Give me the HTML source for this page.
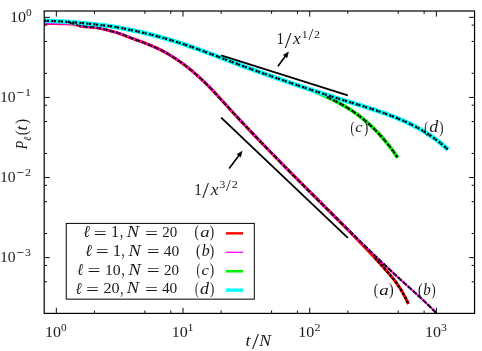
<!DOCTYPE html>
<html><head><meta charset="utf-8"><title>plot</title>
<style>html,body{margin:0;padding:0;background:#fff}body{width:482px;height:351px;overflow:hidden;font-family:"Liberation Serif",serif}svg{display:block}</style>
</head><body>
<svg width="482" height="351" viewBox="0 0 482 351">
<rect width="482" height="351" fill="#fff"/>
<defs><clipPath id="c"><rect x="44.20" y="11.00" width="430.35" height="302.40"/></clipPath></defs>
<g clip-path="url(#c)" fill="none" stroke-linejoin="round">
<path d="M44.20 23.45 L45.11 23.45 L46.03 23.45 L46.94 23.45 L47.85 23.46 L48.77 23.46 L49.68 23.47 L50.59 23.47 L51.50 23.48 L52.42 23.49 L53.33 23.50 L54.24 23.51 L55.16 23.52 L56.07 23.53 L56.98 23.55 L57.90 23.56 L58.81 23.58 L59.72 23.60 L60.63 23.61 L61.55 23.63 L62.46 23.66 L63.37 23.68 L64.29 23.70 L65.20 23.73 L66.11 23.75 L67.03 23.78 L67.94 23.81 L68.85 23.84 L69.76 23.87 L70.68 23.91 L71.59 23.94 L72.50 23.98 L73.42 24.03 L74.33 24.16 L75.24 24.37 L76.16 24.64 L77.07 24.95 L77.98 25.27 L78.90 25.59 L79.81 25.89 L80.72 26.15 L81.63 26.34 L82.55 26.47 L83.46 26.57 L84.37 26.66 L85.29 26.74 L86.20 26.82 L87.11 26.88 L88.03 26.94 L88.94 27.00 L89.85 27.06 L90.76 27.12 L91.68 27.18 L92.59 27.26 L93.50 27.34 L94.42 27.43 L95.33 27.54 L96.24 27.66 L97.16 27.80 L98.07 27.95 L98.98 28.11 L99.89 28.29 L100.81 28.48 L101.72 28.68 L102.63 28.89 L103.55 29.10 L104.46 29.32 L105.37 29.54 L106.29 29.77 L107.20 30.04 L108.11 30.32 L109.03 30.61 L109.94 30.87 L110.85 31.11 L111.76 31.34 L112.68 31.57 L113.59 31.80 L114.50 32.04 L115.42 32.28 L116.33 32.54 L117.24 32.82 L118.16 33.11 L119.07 33.41 L119.98 33.74 L120.89 34.08 L121.81 34.44 L122.72 34.80 L123.63 35.18 L124.55 35.55 L125.46 35.92 L126.37 36.28 L127.29 36.63 L128.20 36.98 L129.11 37.32 L130.03 37.65 L130.94 37.98 L131.85 38.31 L132.76 38.64 L133.68 38.96 L134.59 39.29 L135.50 39.61 L136.42 39.94 L137.33 40.26 L138.24 40.58 L139.16 40.91 L140.07 41.24 L140.98 41.57 L141.89 41.90 L142.81 42.23 L143.72 42.57 L144.63 42.91 L145.55 43.26 L146.46 43.61 L147.37 43.97 L148.29 44.34 L149.20 44.71 L150.11 45.08 L151.02 45.47 L151.94 45.86 L152.85 46.26 L153.76 46.67 L154.68 47.08 L155.59 47.51 L156.50 47.94 L157.42 48.37 L158.33 48.82 L159.24 49.27 L160.16 49.73 L161.07 50.20 L161.98 50.68 L162.89 51.16 L163.81 51.65 L164.72 52.15 L165.63 52.66 L166.55 53.18 L167.46 53.70 L168.37 54.23 L169.29 54.77 L170.20 55.32 L171.11 55.88 L172.02 56.44 L172.94 57.02 L173.85 57.60 L174.76 58.19 L175.68 58.78 L176.59 59.39 L177.50 60.01 L178.42 60.63 L179.33 61.26 L180.24 61.90 L181.15 62.55 L182.07 63.21 L182.98 63.87 L183.89 64.55 L184.81 65.23 L185.72 65.92 L186.63 66.62 L187.55 67.33 L188.46 68.05 L189.37 68.78 L190.29 69.52 L191.20 70.26 L192.11 71.02 L193.02 71.78 L193.94 72.56 L194.85 73.34 L195.76 74.13 L196.68 74.93 L197.59 75.74 L198.50 76.56 L199.42 77.39 L200.33 78.22 L201.24 79.07 L202.15 79.93 L203.07 80.79 L203.98 81.66 L204.89 82.55 L205.81 83.44 L206.72 84.34 L207.63 85.25 L208.55 86.16 L209.46 87.09 L210.37 88.02 L211.28 88.96 L212.20 89.91 L213.11 90.87 L214.02 91.84 L214.94 92.81 L215.85 93.79 L216.76 94.77 L217.68 95.77 L218.59 96.76 L219.50 97.76 L220.42 98.77 L221.33 99.77 L222.24 100.78 L223.15 101.79 L224.07 102.80 L224.98 103.81 L225.89 104.81 L226.81 105.82 L227.72 106.82 L228.63 107.82 L229.55 108.82 L230.46 109.81 L231.37 110.81 L232.28 111.80 L233.20 112.79 L234.11 113.78 L235.02 114.77 L235.94 115.76 L236.85 116.74 L237.76 117.72 L238.68 118.70 L239.59 119.68 L240.50 120.66 L241.42 121.64 L242.33 122.61 L243.24 123.58 L244.15 124.56 L245.07 125.53 L245.98 126.49 L246.89 127.46 L247.81 128.43 L248.72 129.39 L249.63 130.35 L250.55 131.31 L251.46 132.27 L252.37 133.23 L253.28 134.19 L254.20 135.15 L255.11 136.10 L256.02 137.05 L256.94 138.01 L257.85 138.96 L258.76 139.91 L259.68 140.86 L260.59 141.80 L261.50 142.75 L262.41 143.69 L263.33 144.64 L264.24 145.58 L265.15 146.52 L266.07 147.46 L266.98 148.40 L267.89 149.34 L268.81 150.28 L269.72 151.22 L270.63 152.15 L271.55 153.09 L272.46 154.02 L273.37 154.95 L274.28 155.88 L275.20 156.81 L276.11 157.75 L277.02 158.67 L277.94 159.60 L278.85 160.53 L279.76 161.46 L280.68 162.38 L281.59 163.31 L282.50 164.23 L283.41 165.16 L284.33 166.08 L285.24 167.00 L286.15 167.93 L287.07 168.85 L287.98 169.77 L288.89 170.69 L289.81 171.61 L290.72 172.53 L291.63 173.44 L292.54 174.36 L293.46 175.28 L294.37 176.20 L295.28 177.11 L296.20 178.03 L297.11 178.95 L298.02 179.86 L298.94 180.78 L299.85 181.69 L300.76 182.60 L301.68 183.52 L302.59 184.43 L303.50 185.35 L304.41 186.26 L305.33 187.17 L306.24 188.08 L307.15 189.00 L308.07 189.91 L308.98 190.82 L309.89 191.73 L310.81 192.64 L311.72 193.56 L312.63 194.47 L313.54 195.38 L314.46 196.29 L315.37 197.20 L316.28 198.11 L317.20 199.03 L318.11 199.94 L319.02 200.85 L319.94 201.76 L320.85 202.67 L321.76 203.58 L322.67 204.50 L323.59 205.41 L324.50 206.32 L325.41 207.23 L326.33 208.14 L327.24 209.06 L328.15 209.97 L329.07 210.88 L329.98 211.80 L330.89 212.71 L331.81 213.63 L332.72 214.54 L333.63 215.45 L334.54 216.37 L335.46 217.29 L336.37 218.20 L337.28 219.12 L338.20 220.03 L339.11 220.95 L340.02 221.87 L340.94 222.79 L341.85 223.71 L342.76 224.63 L343.67 225.55 L344.59 226.47 L345.50 227.39 L346.41 228.31 L347.33 229.24 L348.24 230.16 L349.15 231.09 L350.07 232.01 L350.98 232.94 L351.89 233.87 L352.81 234.80 L353.72 235.74 L354.63 236.67 L355.54 237.61 L356.46 238.55 L357.37 239.49 L358.28 240.43 L359.20 241.37 L360.11 242.32 L361.02 243.26 L361.94 244.21 L362.85 245.16 L363.76 246.12 L364.67 247.08 L365.59 248.03 L366.50 249.00 L367.41 249.96 L368.33 250.93 L369.24 251.89 L370.15 252.87 L371.07 253.84 L371.98 254.82 L372.89 255.80 L373.80 256.78 L374.72 257.77 L375.63 258.76 L376.54 259.75 L377.46 260.75 L378.37 261.75 L379.28 262.75 L380.20 263.76 L381.11 264.77 L382.02 265.79 L382.94 266.81 L383.85 267.83 L384.76 268.85 L385.67 269.88 L386.59 270.92 L387.50 271.96 L388.41 273.00 L389.33 274.06 L390.24 275.13 L391.15 276.21 L392.07 277.32 L392.98 278.45 L393.89 279.60 L394.80 280.79 L395.72 282.00 L396.63 283.25 L397.54 284.54 L398.46 285.87 L399.37 287.24 L400.28 288.66 L401.20 290.14 L402.11 291.66 L403.02 293.25 L403.93 294.89 L404.85 296.59 L405.76 298.37 L406.67 300.21 L407.59 302.12 L408.50 304.11" stroke="#f00" stroke-width="3.1"/>
<path d="M44.20 23.45 L45.18 23.45 L46.17 23.45 L47.15 23.45 L48.14 23.46 L49.12 23.46 L50.11 23.47 L51.09 23.48 L52.08 23.49 L53.06 23.49 L54.04 23.51 L55.03 23.52 L56.01 23.53 L57.00 23.55 L57.98 23.56 L58.97 23.58 L59.95 23.60 L60.94 23.62 L61.92 23.64 L62.90 23.67 L63.89 23.69 L64.87 23.72 L65.86 23.75 L66.84 23.78 L67.83 23.81 L68.81 23.84 L69.80 23.87 L70.78 23.91 L71.76 23.95 L72.75 23.99 L73.73 24.06 L74.72 24.24 L75.70 24.50 L76.69 24.81 L77.67 25.16 L78.66 25.51 L79.64 25.84 L80.63 26.13 L81.61 26.34 L82.59 26.48 L83.58 26.59 L84.56 26.68 L85.55 26.77 L86.53 26.84 L87.52 26.91 L88.50 26.97 L89.49 27.03 L90.47 27.10 L91.45 27.17 L92.44 27.24 L93.42 27.33 L94.41 27.43 L95.39 27.55 L96.38 27.68 L97.36 27.83 L98.35 28.00 L99.33 28.18 L100.31 28.38 L101.30 28.59 L102.28 28.81 L103.27 29.03 L104.25 29.27 L105.24 29.51 L106.22 29.76 L107.21 30.05 L108.19 30.36 L109.17 30.67 L110.16 30.95 L111.14 31.20 L112.13 31.45 L113.11 31.69 L114.10 31.94 L115.08 32.19 L116.07 32.46 L117.05 32.74 L118.03 33.03 L119.02 33.35 L120.00 33.68 L120.99 34.04 L121.97 34.41 L122.96 34.79 L123.94 35.18 L124.93 35.56 L125.91 35.95 L126.89 36.33 L127.88 36.70 L128.86 37.07 L129.85 37.43 L130.83 37.81 L131.82 38.19 L132.80 38.57 L133.79 38.95 L134.77 39.34 L135.75 39.72 L136.74 40.10 L137.72 40.48 L138.71 40.87 L139.69 41.25 L140.68 41.63 L141.66 42.00 L142.65 42.38 L143.63 42.76 L144.62 43.14 L145.60 43.52 L146.58 43.90 L147.57 44.29 L148.55 44.67 L149.54 45.07 L150.52 45.46 L151.51 45.87 L152.49 46.27 L153.48 46.69 L154.46 47.11 L155.44 47.54 L156.43 47.98 L157.41 48.42 L158.40 48.88 L159.38 49.34 L160.37 49.82 L161.35 50.31 L162.34 50.80 L163.32 51.31 L164.30 51.83 L165.29 52.37 L166.27 52.91 L167.26 53.46 L168.24 54.02 L169.23 54.60 L170.21 55.19 L171.20 55.78 L172.18 56.39 L173.16 57.01 L174.15 57.64 L175.13 58.28 L176.12 58.93 L177.10 59.59 L178.09 60.26 L179.07 60.94 L180.06 61.64 L181.04 62.34 L182.02 63.05 L183.01 63.78 L183.99 64.52 L184.98 65.26 L185.96 66.02 L186.95 66.79 L187.93 67.57 L188.92 68.35 L189.90 69.15 L190.88 69.96 L191.87 70.79 L192.85 71.62 L193.84 72.46 L194.82 73.31 L195.81 74.17 L196.79 75.05 L197.78 75.93 L198.76 76.82 L199.74 77.73 L200.73 78.64 L201.71 79.57 L202.70 80.50 L203.68 81.45 L204.67 82.40 L205.65 83.37 L206.64 84.35 L207.62 85.33 L208.61 86.33 L209.59 87.34 L210.57 88.36 L211.56 89.38 L212.54 90.42 L213.53 91.46 L214.51 92.51 L215.50 93.57 L216.48 94.62 L217.47 95.68 L218.45 96.75 L219.43 97.81 L220.42 98.87 L221.40 99.94 L222.39 101.00 L223.37 102.07 L224.36 103.13 L225.34 104.19 L226.33 105.25 L227.31 106.32 L228.29 107.38 L229.28 108.44 L230.26 109.50 L231.25 110.56 L232.23 111.62 L233.22 112.67 L234.20 113.73 L235.19 114.79 L236.17 115.84 L237.15 116.89 L238.14 117.95 L239.12 119.00 L240.11 120.05 L241.09 121.10 L242.08 122.14 L243.06 123.19 L244.05 124.24 L245.03 125.28 L246.01 126.32 L247.00 127.37 L247.98 128.41 L248.97 129.45 L249.95 130.49 L250.94 131.52 L251.92 132.56 L252.91 133.60 L253.89 134.63 L254.87 135.67 L255.86 136.70 L256.84 137.73 L257.83 138.76 L258.81 139.79 L259.80 140.82 L260.78 141.85 L261.77 142.88 L262.75 143.90 L263.73 144.93 L264.72 145.95 L265.70 146.97 L266.69 148.00 L267.67 149.02 L268.66 150.04 L269.64 151.06 L270.63 152.08 L271.61 153.09 L272.59 154.11 L273.58 155.12 L274.56 156.14 L275.55 157.15 L276.53 158.17 L277.52 159.18 L278.50 160.19 L279.49 161.20 L280.47 162.21 L281.46 163.22 L282.44 164.22 L283.42 165.23 L284.41 166.24 L285.39 167.24 L286.38 168.24 L287.36 169.25 L288.35 170.25 L289.33 171.25 L290.32 172.25 L291.30 173.25 L292.28 174.25 L293.27 175.25 L294.25 176.25 L295.24 177.24 L296.22 178.24 L297.21 179.23 L298.19 180.23 L299.18 181.22 L300.16 182.21 L301.14 183.21 L302.13 184.20 L303.11 185.19 L304.10 186.18 L305.08 187.17 L306.07 188.15 L307.05 189.14 L308.04 190.13 L309.02 191.11 L310.00 192.10 L310.99 193.08 L311.97 194.07 L312.96 195.05 L313.94 196.03 L314.93 197.01 L315.91 197.99 L316.90 198.97 L317.88 199.95 L318.86 200.93 L319.85 201.91 L320.83 202.89 L321.82 203.86 L322.80 204.84 L323.79 205.82 L324.77 206.79 L325.76 207.77 L326.74 208.74 L327.72 209.71 L328.71 210.68 L329.69 211.66 L330.68 212.63 L331.66 213.60 L332.65 214.57 L333.63 215.54 L334.62 216.51 L335.60 217.47 L336.58 218.44 L337.57 219.41 L338.55 220.37 L339.54 221.34 L340.52 222.31 L341.51 223.27 L342.49 224.23 L343.48 225.20 L344.46 226.16 L345.45 227.12 L346.43 228.09 L347.41 229.05 L348.40 230.01 L349.38 230.97 L350.37 231.93 L351.35 232.89 L352.34 233.85 L353.32 234.81 L354.31 235.76 L355.29 236.72 L356.27 237.68 L357.26 238.63 L358.24 239.59 L359.23 240.55 L360.21 241.50 L361.20 242.45 L362.18 243.41 L363.17 244.36 L364.15 245.31 L365.13 246.26 L366.12 247.21 L367.10 248.16 L368.09 249.11 L369.07 250.06 L370.06 251.00 L371.04 251.95 L372.03 252.89 L373.01 253.83 L373.99 254.78 L374.98 255.72 L375.96 256.66 L376.95 257.59 L377.93 258.53 L378.92 259.47 L379.90 260.40 L380.89 261.33 L381.87 262.27 L382.85 263.20 L383.84 264.12 L384.82 265.05 L385.81 265.98 L386.79 266.90 L387.78 267.82 L388.76 268.74 L389.75 269.66 L390.73 270.58 L391.71 271.49 L392.70 272.41 L393.68 273.32 L394.67 274.23 L395.65 275.14 L396.64 276.04 L397.62 276.95 L398.61 277.85 L399.59 278.75 L400.57 279.65 L401.56 280.54 L402.54 281.43 L403.53 282.33 L404.51 283.22 L405.50 284.10 L406.48 284.99 L407.47 285.87 L408.45 286.76 L409.44 287.64 L410.42 288.53 L411.40 289.41 L412.39 290.30 L413.37 291.19 L414.36 292.08 L415.34 292.97 L416.33 293.86 L417.31 294.76 L418.30 295.66 L419.28 296.56 L420.26 297.47 L421.25 298.38 L422.23 299.30 L423.22 300.22 L424.20 301.15 L425.19 302.08 L426.17 303.02 L427.16 303.96 L428.14 304.92 L429.12 305.88 L430.11 306.84 L431.09 307.82 L432.08 308.80 L433.06 309.80 L434.05 310.80 L435.03 311.81 L436.02 312.83 L437.00 313.86" stroke="#f0f" stroke-width="2.0"/>
<path d="M44.20 20.70 L45.09 20.73 L45.97 20.76 L46.86 20.79 L47.74 20.82 L48.63 20.86 L49.52 20.89 L50.40 20.93 L51.29 20.97 L52.17 21.01 L53.06 21.05 L53.95 21.09 L54.83 21.13 L55.72 21.17 L56.60 21.22 L57.49 21.26 L58.38 21.31 L59.26 21.36 L60.15 21.41 L61.03 21.46 L61.92 21.51 L62.81 21.56 L63.69 21.62 L64.58 21.68 L65.46 21.74 L66.35 21.80 L67.24 21.86 L68.12 21.93 L69.01 21.99 L69.89 22.06 L70.78 22.13 L71.66 22.20 L72.55 22.27 L73.44 22.34 L74.32 22.41 L75.21 22.49 L76.09 22.56 L76.98 22.64 L77.87 22.71 L78.75 22.79 L79.64 22.87 L80.52 22.95 L81.41 23.03 L82.30 23.11 L83.18 23.19 L84.07 23.27 L84.95 23.36 L85.84 23.44 L86.73 23.53 L87.61 23.62 L88.50 23.71 L89.38 23.80 L90.27 23.89 L91.16 23.98 L92.04 24.08 L92.93 24.17 L93.81 24.27 L94.70 24.37 L95.59 24.47 L96.47 24.57 L97.36 24.67 L98.24 24.77 L99.13 24.87 L100.02 24.97 L100.90 25.07 L101.79 25.18 L102.67 25.28 L103.56 25.38 L104.45 25.49 L105.33 25.60 L106.22 25.71 L107.10 25.82 L107.99 25.94 L108.88 26.06 L109.76 26.18 L110.65 26.30 L111.53 26.43 L112.42 26.56 L113.31 26.70 L114.19 26.83 L115.08 26.98 L115.96 27.12 L116.85 27.27 L117.74 27.42 L118.62 27.58 L119.51 27.74 L120.39 27.90 L121.28 28.07 L122.16 28.25 L123.05 28.42 L123.94 28.60 L124.82 28.78 L125.71 28.95 L126.59 29.13 L127.48 29.31 L128.37 29.48 L129.25 29.66 L130.14 29.84 L131.02 30.02 L131.91 30.20 L132.80 30.39 L133.68 30.57 L134.57 30.76 L135.45 30.95 L136.34 31.15 L137.23 31.34 L138.11 31.54 L139.00 31.74 L139.88 31.94 L140.77 32.14 L141.66 32.34 L142.54 32.55 L143.43 32.76 L144.31 32.97 L145.20 33.18 L146.09 33.39 L146.97 33.61 L147.86 33.82 L148.74 34.04 L149.63 34.26 L150.52 34.49 L151.40 34.71 L152.29 34.94 L153.17 35.17 L154.06 35.40 L154.95 35.63 L155.83 35.87 L156.72 36.10 L157.60 36.34 L158.49 36.58 L159.38 36.83 L160.26 37.07 L161.15 37.32 L162.03 37.56 L162.92 37.82 L163.81 38.07 L164.69 38.32 L165.58 38.58 L166.46 38.84 L167.35 39.10 L168.24 39.36 L169.12 39.62 L170.01 39.89 L170.89 40.16 L171.78 40.43 L172.66 40.70 L173.55 40.97 L174.44 41.25 L175.32 41.53 L176.21 41.81 L177.09 42.09 L177.98 42.37 L178.87 42.66 L179.75 42.94 L180.64 43.23 L181.52 43.53 L182.41 43.82 L183.30 44.11 L184.18 44.41 L185.07 44.71 L185.95 45.01 L186.84 45.31 L187.73 45.62 L188.61 45.92 L189.50 46.23 L190.38 46.54 L191.27 46.85 L192.16 47.16 L193.04 47.48 L193.93 47.79 L194.81 48.11 L195.70 48.43 L196.59 48.74 L197.47 49.06 L198.36 49.38 L199.24 49.71 L200.13 50.03 L201.02 50.35 L201.90 50.68 L202.79 51.01 L203.67 51.33 L204.56 51.66 L205.45 51.99 L206.33 52.32 L207.22 52.65 L208.10 52.98 L208.99 53.31 L209.88 53.65 L210.76 53.98 L211.65 54.31 L212.53 54.65 L213.42 54.98 L214.31 55.32 L215.19 55.65 L216.08 55.99 L216.96 56.33 L217.85 56.66 L218.74 57.00 L219.62 57.34 L220.51 57.67 L221.39 58.01 L222.28 58.35 L223.16 58.68 L224.05 59.02 L224.94 59.36 L225.82 59.70 L226.71 60.03 L227.59 60.37 L228.48 60.71 L229.37 61.04 L230.25 61.38 L231.14 61.71 L232.02 62.05 L232.91 62.38 L233.80 62.72 L234.68 63.05 L235.57 63.38 L236.45 63.72 L237.34 64.05 L238.23 64.38 L239.11 64.71 L240.00 65.04 L240.88 65.37 L241.77 65.70 L242.66 66.03 L243.54 66.35 L244.43 66.68 L245.31 67.00 L246.20 67.33 L247.09 67.65 L247.97 67.97 L248.86 68.30 L249.74 68.62 L250.63 68.94 L251.52 69.26 L252.40 69.58 L253.29 69.89 L254.17 70.21 L255.06 70.53 L255.95 70.84 L256.83 71.16 L257.72 71.47 L258.60 71.79 L259.49 72.10 L260.38 72.41 L261.26 72.72 L262.15 73.03 L263.03 73.34 L263.92 73.65 L264.81 73.96 L265.69 74.27 L266.58 74.57 L267.46 74.88 L268.35 75.18 L269.24 75.49 L270.12 75.79 L271.01 76.10 L271.89 76.40 L272.78 76.70 L273.66 77.00 L274.55 77.30 L275.44 77.60 L276.32 77.90 L277.21 78.20 L278.09 78.50 L278.98 78.80 L279.87 79.10 L280.75 79.40 L281.64 79.70 L282.52 80.00 L283.41 80.30 L284.30 80.60 L285.18 80.90 L286.07 81.21 L286.95 81.51 L287.84 81.81 L288.73 82.12 L289.61 82.42 L290.50 82.73 L291.38 83.03 L292.27 83.34 L293.16 83.65 L294.04 83.96 L294.93 84.27 L295.81 84.58 L296.70 84.89 L297.59 85.21 L298.47 85.53 L299.36 85.84 L300.24 86.16 L301.13 86.49 L302.02 86.81 L302.90 87.14 L303.79 87.46 L304.67 87.79 L305.56 88.12 L306.45 88.46 L307.33 88.79 L308.22 89.13 L309.10 89.47 L309.99 89.82 L310.88 90.16 L311.76 90.51 L312.65 90.86 L313.53 91.22 L314.42 91.57 L315.31 91.93 L316.19 92.29 L317.08 92.66 L317.96 93.03 L318.85 93.40 L319.74 93.78 L320.62 94.16 L321.51 94.54 L322.39 94.92 L323.28 95.31 L324.16 95.71 L325.05 96.10 L325.94 96.50 L326.82 96.91 L327.71 97.32 L328.59 97.73 L329.48 98.15 L330.37 98.57 L331.25 99.00 L332.14 99.43 L333.02 99.86 L333.91 100.31 L334.80 100.75 L335.68 101.21 L336.57 101.67 L337.45 102.13 L338.34 102.60 L339.23 103.08 L340.11 103.57 L341.00 104.06 L341.88 104.56 L342.77 105.06 L343.66 105.57 L344.54 106.09 L345.43 106.62 L346.31 107.15 L347.20 107.70 L348.09 108.25 L348.97 108.81 L349.86 109.37 L350.74 109.95 L351.63 110.53 L352.52 111.13 L353.40 111.73 L354.29 112.34 L355.17 112.96 L356.06 113.59 L356.95 114.23 L357.83 114.89 L358.72 115.55 L359.60 116.22 L360.49 116.90 L361.38 117.59 L362.26 118.29 L363.15 119.01 L364.03 119.74 L364.92 120.47 L365.81 121.22 L366.69 121.98 L367.58 122.76 L368.46 123.54 L369.35 124.34 L370.24 125.15 L371.12 125.98 L372.01 126.81 L372.89 127.66 L373.78 128.53 L374.66 129.41 L375.55 130.30 L376.44 131.21 L377.32 132.13 L378.21 133.06 L379.09 134.01 L379.98 134.98 L380.87 135.96 L381.75 136.95 L382.64 137.96 L383.52 138.99 L384.41 140.03 L385.30 141.09 L386.18 142.17 L387.07 143.26 L387.95 144.37 L388.84 145.49 L389.73 146.63 L390.61 147.79 L391.50 148.97 L392.38 150.17 L393.27 151.38 L394.16 152.61 L395.04 153.86 L395.93 155.13 L396.81 156.42 L397.70 157.72" stroke="#00f000" stroke-width="3.6"/>
<path d="M44.20 20.70 L45.21 20.73 L46.22 20.77 L47.24 20.80 L48.25 20.84 L49.26 20.88 L50.27 20.92 L51.28 20.97 L52.30 21.01 L53.31 21.06 L54.32 21.11 L55.33 21.15 L56.34 21.21 L57.36 21.26 L58.37 21.31 L59.38 21.37 L60.39 21.42 L61.40 21.48 L62.42 21.54 L63.43 21.60 L64.44 21.67 L65.45 21.74 L66.46 21.81 L67.48 21.88 L68.49 21.95 L69.50 22.03 L70.51 22.11 L71.52 22.19 L72.54 22.27 L73.55 22.35 L74.56 22.43 L75.57 22.52 L76.58 22.60 L77.60 22.69 L78.61 22.78 L79.62 22.87 L80.63 22.96 L81.65 23.05 L82.66 23.14 L83.67 23.23 L84.68 23.33 L85.69 23.43 L86.71 23.53 L87.72 23.63 L88.73 23.73 L89.74 23.83 L90.75 23.94 L91.77 24.05 L92.78 24.16 L93.79 24.27 L94.80 24.38 L95.81 24.49 L96.83 24.61 L97.84 24.72 L98.85 24.84 L99.86 24.96 L100.87 25.07 L101.89 25.19 L102.90 25.31 L103.91 25.43 L104.92 25.55 L105.93 25.68 L106.95 25.81 L107.96 25.94 L108.97 26.08 L109.98 26.22 L110.99 26.36 L112.01 26.51 L113.02 26.66 L114.03 26.82 L115.04 26.98 L116.05 27.15 L117.07 27.32 L118.08 27.50 L119.09 27.68 L120.10 27.87 L121.11 28.06 L122.13 28.26 L123.14 28.46 L124.15 28.66 L125.16 28.87 L126.17 29.07 L127.19 29.27 L128.20 29.48 L129.21 29.68 L130.22 29.88 L131.23 30.09 L132.25 30.30 L133.26 30.51 L134.27 30.73 L135.28 30.94 L136.29 31.16 L137.31 31.38 L138.32 31.61 L139.33 31.84 L140.34 32.07 L141.35 32.30 L142.37 32.53 L143.38 32.77 L144.39 33.01 L145.40 33.25 L146.42 33.49 L147.43 33.74 L148.44 33.99 L149.45 34.24 L150.46 34.49 L151.48 34.75 L152.49 35.01 L153.50 35.27 L154.51 35.54 L155.52 35.80 L156.54 36.07 L157.55 36.34 L158.56 36.62 L159.57 36.89 L160.58 37.17 L161.60 37.45 L162.61 37.74 L163.62 38.02 L164.63 38.31 L165.64 38.60 L166.66 38.90 L167.67 39.20 L168.68 39.49 L169.69 39.80 L170.70 40.10 L171.72 40.41 L172.73 40.72 L173.74 41.03 L174.75 41.34 L175.76 41.66 L176.78 41.98 L177.79 42.30 L178.80 42.63 L179.81 42.95 L180.82 43.28 L181.84 43.61 L182.85 43.95 L183.86 44.29 L184.87 44.63 L185.88 44.97 L186.90 45.31 L187.91 45.66 L188.92 46.01 L189.93 46.36 L190.94 46.71 L191.96 47.06 L192.97 47.42 L193.98 47.78 L194.99 48.13 L196.00 48.50 L197.02 48.86 L198.03 49.22 L199.04 49.59 L200.05 49.96 L201.06 50.32 L202.08 50.69 L203.09 51.07 L204.10 51.44 L205.11 51.81 L206.12 52.19 L207.14 52.56 L208.15 52.94 L209.16 53.32 L210.17 53.70 L211.18 54.07 L212.20 54.45 L213.21 54.84 L214.22 55.22 L215.23 55.60 L216.25 55.98 L217.26 56.36 L218.27 56.75 L219.28 57.13 L220.29 57.51 L221.31 57.90 L222.32 58.28 L223.33 58.67 L224.34 59.05 L225.35 59.43 L226.37 59.82 L227.38 60.20 L228.39 60.59 L229.40 60.97 L230.41 61.35 L231.43 61.74 L232.44 62.12 L233.45 62.50 L234.46 62.88 L235.47 63.26 L236.49 63.64 L237.50 64.02 L238.51 64.40 L239.52 64.78 L240.53 65.15 L241.55 65.53 L242.56 65.90 L243.57 66.28 L244.58 66.65 L245.59 67.02 L246.61 67.39 L247.62 67.76 L248.63 68.13 L249.64 68.50 L250.65 68.87 L251.67 69.24 L252.68 69.60 L253.69 69.97 L254.70 70.33 L255.71 70.70 L256.73 71.06 L257.74 71.42 L258.75 71.79 L259.76 72.15 L260.77 72.51 L261.79 72.87 L262.80 73.23 L263.81 73.59 L264.82 73.94 L265.83 74.30 L266.85 74.66 L267.86 75.01 L268.87 75.37 L269.88 75.73 L270.89 76.08 L271.91 76.43 L272.92 76.79 L273.93 77.14 L274.94 77.49 L275.95 77.85 L276.97 78.20 L277.98 78.55 L278.99 78.90 L280.00 79.25 L281.02 79.60 L282.03 79.95 L283.04 80.30 L284.05 80.65 L285.06 80.99 L286.08 81.34 L287.09 81.69 L288.10 82.04 L289.11 82.38 L290.12 82.73 L291.14 83.08 L292.15 83.42 L293.16 83.77 L294.17 84.11 L295.18 84.46 L296.20 84.80 L297.21 85.15 L298.22 85.49 L299.23 85.83 L300.24 86.18 L301.26 86.52 L302.27 86.86 L303.28 87.20 L304.29 87.55 L305.30 87.89 L306.32 88.23 L307.33 88.57 L308.34 88.90 L309.35 89.24 L310.36 89.58 L311.38 89.92 L312.39 90.25 L313.40 90.59 L314.41 90.93 L315.42 91.26 L316.44 91.59 L317.45 91.93 L318.46 92.26 L319.47 92.59 L320.48 92.92 L321.50 93.25 L322.51 93.58 L323.52 93.91 L324.53 94.24 L325.54 94.57 L326.56 94.89 L327.57 95.22 L328.58 95.54 L329.59 95.87 L330.60 96.19 L331.62 96.51 L332.63 96.83 L333.64 97.15 L334.65 97.47 L335.66 97.79 L336.68 98.11 L337.69 98.42 L338.70 98.74 L339.71 99.05 L340.72 99.37 L341.74 99.68 L342.75 99.99 L343.76 100.30 L344.77 100.61 L345.78 100.92 L346.80 101.23 L347.81 101.54 L348.82 101.84 L349.83 102.15 L350.85 102.46 L351.86 102.77 L352.87 103.07 L353.88 103.38 L354.89 103.69 L355.91 104.00 L356.92 104.31 L357.93 104.62 L358.94 104.93 L359.95 105.24 L360.97 105.55 L361.98 105.87 L362.99 106.18 L364.00 106.50 L365.01 106.82 L366.03 107.13 L367.04 107.45 L368.05 107.78 L369.06 108.10 L370.07 108.42 L371.09 108.75 L372.10 109.08 L373.11 109.41 L374.12 109.75 L375.13 110.08 L376.15 110.42 L377.16 110.76 L378.17 111.10 L379.18 111.45 L380.19 111.80 L381.21 112.15 L382.22 112.50 L383.23 112.86 L384.24 113.22 L385.25 113.59 L386.27 113.96 L387.28 114.33 L388.29 114.70 L389.30 115.08 L390.31 115.46 L391.33 115.85 L392.34 116.24 L393.35 116.63 L394.36 117.03 L395.37 117.43 L396.39 117.84 L397.40 118.25 L398.41 118.67 L399.42 119.09 L400.43 119.52 L401.45 119.95 L402.46 120.39 L403.47 120.83 L404.48 121.29 L405.49 121.74 L406.51 122.21 L407.52 122.68 L408.53 123.15 L409.54 123.64 L410.55 124.13 L411.57 124.63 L412.58 125.14 L413.59 125.66 L414.60 126.18 L415.62 126.72 L416.63 127.26 L417.64 127.81 L418.65 128.37 L419.66 128.94 L420.68 129.52 L421.69 130.11 L422.70 130.71 L423.71 131.32 L424.72 131.94 L425.74 132.58 L426.75 133.22 L427.76 133.87 L428.77 134.54 L429.78 135.22 L430.80 135.91 L431.81 136.61 L432.82 137.32 L433.83 138.05 L434.84 138.79 L435.86 139.54 L436.87 140.31 L437.88 141.09 L438.89 141.88 L439.90 142.69 L440.92 143.51 L441.93 144.34 L442.94 145.19 L443.95 146.06 L444.96 146.94 L445.98 147.83 L446.99 148.74 L448.00 149.67" stroke="#0ff" stroke-width="4.5"/>
<path d="M374.72 257.77 L375.63 258.76 L376.54 259.75 L377.46 260.75 L378.37 261.75 L379.28 262.75 L380.20 263.76 L381.11 264.77 L382.02 265.79 L382.94 266.81 L383.85 267.83 L384.76 268.85 L385.67 269.88 L386.59 270.92 L387.50 271.96 L388.41 273.00 L389.33 274.06 L390.24 275.13 L391.15 276.21 L392.07 277.32 L392.98 278.45 L393.89 279.60 L394.80 280.79 L395.72 282.00 L396.63 283.25 L397.54 284.54 L398.46 285.87 L399.37 287.24 L400.28 288.66 L401.20 290.14 L402.11 291.66 L403.02 293.25 L403.93 294.89 L404.85 296.59 L405.76 298.37 L406.67 300.21 L407.59 302.12 L408.50 304.11" stroke="#000" stroke-width="2.25" stroke-dasharray="2.6 1.9"/>
<path d="M69.80 22.71 L70.78 22.95 L71.76 23.19 L72.75 23.42 L73.73 23.66 L74.72 23.97 L75.70 24.34 L76.69 24.75 L77.67 25.15 L78.66 25.51 L79.64 25.84 L80.63 26.13 L81.61 26.34 L82.59 26.48 L83.58 26.59 L84.56 26.68 L85.55 26.77 L86.53 26.84 L87.52 26.91 L88.50 26.97 L89.49 27.03 L90.47 27.10 L91.45 27.17 L92.44 27.24 L93.42 27.33 L94.41 27.43 L95.39 27.55 L96.38 27.68 L97.36 27.83 L98.35 28.00 L99.33 28.18 L100.31 28.38 L101.30 28.59 L102.28 28.81 L103.27 29.03 L104.25 29.27 L105.24 29.51 L106.22 29.76 L107.21 30.05 L108.19 30.36 L109.17 30.67 L110.16 30.95 L111.14 31.20 L112.13 31.45 L113.11 31.69 L114.10 31.94 L115.08 32.19 L116.07 32.46 L117.05 32.74 L118.03 33.03 L119.02 33.35 L120.00 33.68 L120.99 34.04 L121.97 34.41 L122.96 34.79 L123.94 35.18 L124.93 35.56 L125.91 35.95 L126.89 36.33 L127.88 36.70 L128.86 37.07 L129.85 37.43 L130.83 37.81 L131.82 38.19 L132.80 38.57 L133.79 38.95 L134.77 39.34 L135.75 39.72 L136.74 40.10 L137.72 40.48 L138.71 40.87 L139.69 41.25 L140.68 41.63 L141.66 42.00 L142.65 42.38 L143.63 42.76 L144.62 43.14 L145.60 43.52 L146.58 43.90 L147.57 44.29 L148.55 44.67 L149.54 45.07 L150.52 45.46 L151.51 45.87 L152.49 46.27 L153.48 46.69 L154.46 47.11 L155.44 47.54 L156.43 47.98 L157.41 48.42 L158.40 48.88 L159.38 49.34 L160.37 49.82 L161.35 50.31 L162.34 50.80 L163.32 51.31 L164.30 51.83 L165.29 52.37 L166.27 52.91 L167.26 53.46 L168.24 54.02 L169.23 54.60 L170.21 55.19 L171.20 55.78 L172.18 56.39 L173.16 57.01 L174.15 57.64 L175.13 58.28 L176.12 58.93 L177.10 59.59 L178.09 60.26 L179.07 60.94 L180.06 61.64 L181.04 62.34 L182.02 63.05 L183.01 63.78 L183.99 64.52 L184.98 65.26 L185.96 66.02 L186.95 66.79 L187.93 67.57 L188.92 68.35 L189.90 69.15 L190.88 69.96 L191.87 70.79 L192.85 71.62 L193.84 72.46 L194.82 73.31 L195.81 74.17 L196.79 75.05 L197.78 75.93 L198.76 76.82 L199.74 77.73 L200.73 78.64 L201.71 79.57 L202.70 80.50 L203.68 81.45 L204.67 82.40 L205.65 83.37 L206.64 84.35 L207.62 85.33 L208.61 86.33 L209.59 87.34 L210.57 88.36 L211.56 89.38 L212.54 90.42 L213.53 91.46 L214.51 92.51 L215.50 93.57 L216.48 94.62 L217.47 95.68 L218.45 96.75 L219.43 97.81 L220.42 98.87 L221.40 99.94 L222.39 101.00 L223.37 102.07 L224.36 103.13 L225.34 104.19 L226.33 105.25 L227.31 106.32 L228.29 107.38 L229.28 108.44 L230.26 109.50 L231.25 110.56" stroke="#000" stroke-width="2.1" stroke-dasharray="2.0 0.6 2.0 2.2"/>
<path d="M232.23 111.62 L233.22 112.67 L234.20 113.73 L235.19 114.79 L236.17 115.84 L237.15 116.89 L238.14 117.95 L239.12 119.00 L240.11 120.05 L241.09 121.10 L242.08 122.14 L243.06 123.19 L244.05 124.24 L245.03 125.28 L246.01 126.32 L247.00 127.37 L247.98 128.41 L248.97 129.45 L249.95 130.49 L250.94 131.52 L251.92 132.56 L252.91 133.60 L253.89 134.63 L254.87 135.67 L255.86 136.70 L256.84 137.73 L257.83 138.76 L258.81 139.79 L259.80 140.82 L260.78 141.85 L261.77 142.88 L262.75 143.90 L263.73 144.93 L264.72 145.95 L265.70 146.97 L266.69 148.00 L267.67 149.02 L268.66 150.04 L269.64 151.06 L270.63 152.08 L271.61 153.09 L272.59 154.11 L273.58 155.12 L274.56 156.14 L275.55 157.15 L276.53 158.17 L277.52 159.18 L278.50 160.19 L279.49 161.20 L280.47 162.21 L281.46 163.22 L282.44 164.22 L283.42 165.23 L284.41 166.24 L285.39 167.24 L286.38 168.24 L287.36 169.25 L288.35 170.25 L289.33 171.25 L290.32 172.25 L291.30 173.25 L292.28 174.25 L293.27 175.25 L294.25 176.25 L295.24 177.24 L296.22 178.24 L297.21 179.23 L298.19 180.23 L299.18 181.22 L300.16 182.21 L301.14 183.21 L302.13 184.20 L303.11 185.19 L304.10 186.18 L305.08 187.17 L306.07 188.15 L307.05 189.14 L308.04 190.13 L309.02 191.11 L310.00 192.10 L310.99 193.08 L311.97 194.07 L312.96 195.05 L313.94 196.03 L314.93 197.01 L315.91 197.99 L316.90 198.97 L317.88 199.95 L318.86 200.93 L319.85 201.91 L320.83 202.89 L321.82 203.86 L322.80 204.84 L323.79 205.82 L324.77 206.79 L325.76 207.77 L326.74 208.74 L327.72 209.71 L328.71 210.68 L329.69 211.66 L330.68 212.63 L331.66 213.60 L332.65 214.57 L333.63 215.54 L334.62 216.51 L335.60 217.47 L336.58 218.44 L337.57 219.41 L338.55 220.37 L339.54 221.34 L340.52 222.31 L341.51 223.27 L342.49 224.23 L343.48 225.20 L344.46 226.16 L345.45 227.12 L346.43 228.09 L347.41 229.05 L348.40 230.01 L349.38 230.97 L350.37 231.93 L351.35 232.89 L352.34 233.85 L353.32 234.81 L354.31 235.76 L355.29 236.72 L356.27 237.68 L357.26 238.63 L358.24 239.59 L359.23 240.55 L360.21 241.50 L361.20 242.45 L362.18 243.41 L363.17 244.36 L364.15 245.31 L365.13 246.26 L366.12 247.21 L367.10 248.16 L368.09 249.11 L369.07 250.06 L370.06 251.00 L371.04 251.95 L372.03 252.89 L373.01 253.83 L373.99 254.78 L374.98 255.72 L375.96 256.66 L376.95 257.59 L377.93 258.53 L378.92 259.47 L379.90 260.40 L380.89 261.33 L381.87 262.27 L382.85 263.20 L383.84 264.12 L384.82 265.05 L385.81 265.98 L386.79 266.90 L387.78 267.82 L388.76 268.74 L389.75 269.66 L390.73 270.58 L391.71 271.49 L392.70 272.41 L393.68 273.32 L394.67 274.23 L395.65 275.14 L396.64 276.04 L397.62 276.95 L398.61 277.85 L399.59 278.75 L400.57 279.65 L401.56 280.54 L402.54 281.43 L403.53 282.33 L404.51 283.22 L405.50 284.10 L406.48 284.99 L407.47 285.87 L408.45 286.76 L409.44 287.64 L410.42 288.53 L411.40 289.41 L412.39 290.30 L413.37 291.19 L414.36 292.08 L415.34 292.97 L416.33 293.86 L417.31 294.76 L418.30 295.66 L419.28 296.56 L420.26 297.47 L421.25 298.38 L422.23 299.30 L423.22 300.22 L424.20 301.15 L425.19 302.08 L426.17 303.02 L427.16 303.96 L428.14 304.92 L429.12 305.88 L430.11 306.84 L431.09 307.82 L432.08 308.80 L433.06 309.80 L434.05 310.80 L435.03 311.81 L436.02 312.83 L437.00 313.86" stroke="#000" stroke-width="2.25" stroke-dasharray="2.05 0.5 2.05 2.1"/>
<path d="M326.82 96.91 L327.71 97.32 L328.59 97.73 L329.48 98.15 L330.37 98.57 L331.25 99.00 L332.14 99.43 L333.02 99.86 L333.91 100.31 L334.80 100.75 L335.68 101.21 L336.57 101.67 L337.45 102.13 L338.34 102.60 L339.23 103.08 L340.11 103.57 L341.00 104.06 L341.88 104.56 L342.77 105.06 L343.66 105.57 L344.54 106.09 L345.43 106.62 L346.31 107.15 L347.20 107.70 L348.09 108.25 L348.97 108.81 L349.86 109.37 L350.74 109.95 L351.63 110.53 L352.52 111.13 L353.40 111.73 L354.29 112.34 L355.17 112.96 L356.06 113.59 L356.95 114.23 L357.83 114.89 L358.72 115.55 L359.60 116.22 L360.49 116.90 L361.38 117.59 L362.26 118.29 L363.15 119.01 L364.03 119.74 L364.92 120.47 L365.81 121.22 L366.69 121.98 L367.58 122.76 L368.46 123.54 L369.35 124.34 L370.24 125.15 L371.12 125.98 L372.01 126.81 L372.89 127.66 L373.78 128.53 L374.66 129.41 L375.55 130.30 L376.44 131.21 L377.32 132.13 L378.21 133.06 L379.09 134.01 L379.98 134.98 L380.87 135.96 L381.75 136.95 L382.64 137.96 L383.52 138.99 L384.41 140.03 L385.30 141.09 L386.18 142.17 L387.07 143.26 L387.95 144.37 L388.84 145.49 L389.73 146.63 L390.61 147.79 L391.50 148.97 L392.38 150.17 L393.27 151.38 L394.16 152.61 L395.04 153.86 L395.93 155.13 L396.81 156.42 L397.70 157.72" stroke="#000" stroke-width="2.25" stroke-dasharray="2.1 0.55 2.1 2.3"/>
<path d="M44.20 20.70 L45.21 20.73 L46.22 20.77 L47.24 20.80 L48.25 20.84 L49.26 20.88 L50.27 20.92 L51.28 20.97 L52.30 21.01 L53.31 21.06 L54.32 21.11 L55.33 21.15 L56.34 21.21 L57.36 21.26 L58.37 21.31 L59.38 21.37 L60.39 21.42 L61.40 21.48 L62.42 21.54 L63.43 21.60 L64.44 21.67 L65.45 21.74 L66.46 21.81 L67.48 21.88 L68.49 21.95 L69.50 22.03 L70.51 22.11 L71.52 22.19 L72.54 22.27 L73.55 22.35 L74.56 22.43 L75.57 22.52 L76.58 22.60 L77.60 22.69 L78.61 22.78 L79.62 22.87 L80.63 22.96 L81.65 23.05 L82.66 23.14 L83.67 23.23 L84.68 23.33 L85.69 23.43 L86.71 23.53 L87.72 23.63 L88.73 23.73 L89.74 23.83 L90.75 23.94 L91.77 24.05 L92.78 24.16 L93.79 24.27 L94.80 24.38 L95.81 24.49 L96.83 24.61 L97.84 24.72 L98.85 24.84 L99.86 24.96 L100.87 25.07 L101.89 25.19 L102.90 25.31 L103.91 25.43 L104.92 25.55 L105.93 25.68 L106.95 25.81 L107.96 25.94 L108.97 26.08 L109.98 26.22 L110.99 26.36 L112.01 26.51 L113.02 26.66 L114.03 26.82 L115.04 26.98 L116.05 27.15 L117.07 27.32 L118.08 27.50 L119.09 27.68 L120.10 27.87 L121.11 28.06 L122.13 28.26 L123.14 28.46 L124.15 28.66 L125.16 28.87 L126.17 29.07 L127.19 29.27 L128.20 29.48 L129.21 29.68 L130.22 29.88 L131.23 30.09 L132.25 30.30 L133.26 30.51 L134.27 30.73 L135.28 30.94 L136.29 31.16 L137.31 31.38 L138.32 31.61 L139.33 31.84 L140.34 32.07 L141.35 32.30 L142.37 32.53 L143.38 32.77 L144.39 33.01 L145.40 33.25 L146.42 33.49 L147.43 33.74 L148.44 33.99 L149.45 34.24 L150.46 34.49 L151.48 34.75 L152.49 35.01 L153.50 35.27 L154.51 35.54 L155.52 35.80 L156.54 36.07 L157.55 36.34 L158.56 36.62 L159.57 36.89 L160.58 37.17 L161.60 37.45 L162.61 37.74 L163.62 38.02 L164.63 38.31 L165.64 38.60 L166.66 38.90 L167.67 39.20 L168.68 39.49 L169.69 39.80 L170.70 40.10 L171.72 40.41 L172.73 40.72 L173.74 41.03 L174.75 41.34 L175.76 41.66 L176.78 41.98 L177.79 42.30 L178.80 42.63 L179.81 42.95 L180.82 43.28 L181.84 43.61 L182.85 43.95 L183.86 44.29 L184.87 44.63 L185.88 44.97 L186.90 45.31 L187.91 45.66 L188.92 46.01 L189.93 46.36 L190.94 46.71 L191.96 47.06 L192.97 47.42 L193.98 47.78 L194.99 48.13 L196.00 48.50 L197.02 48.86 L198.03 49.22 L199.04 49.59 L200.05 49.96 L201.06 50.32 L202.08 50.69 L203.09 51.07 L204.10 51.44 L205.11 51.81 L206.12 52.19 L207.14 52.56 L208.15 52.94 L209.16 53.32 L210.17 53.70 L211.18 54.07 L212.20 54.45 L213.21 54.84 L214.22 55.22 L215.23 55.60 L216.25 55.98 L217.26 56.36 L218.27 56.75 L219.28 57.13 L220.29 57.51 L221.31 57.90 L222.32 58.28 L223.33 58.67 L224.34 59.05 L225.35 59.43 L226.37 59.82 L227.38 60.20 L228.39 60.59 L229.40 60.97 L230.41 61.35 L231.43 61.74 L232.44 62.12 L233.45 62.50 L234.46 62.88 L235.47 63.26 L236.49 63.64 L237.50 64.02 L238.51 64.40 L239.52 64.78 L240.53 65.15 L241.55 65.53 L242.56 65.90 L243.57 66.28 L244.58 66.65 L245.59 67.02 L246.61 67.39 L247.62 67.76 L248.63 68.13 L249.64 68.50 L250.65 68.87 L251.67 69.24 L252.68 69.60 L253.69 69.97 L254.70 70.33 L255.71 70.70 L256.73 71.06 L257.74 71.42 L258.75 71.79 L259.76 72.15 L260.77 72.51 L261.79 72.87 L262.80 73.23 L263.81 73.59 L264.82 73.94 L265.83 74.30 L266.85 74.66 L267.86 75.01 L268.87 75.37 L269.88 75.73 L270.89 76.08 L271.91 76.43 L272.92 76.79 L273.93 77.14 L274.94 77.49 L275.95 77.85 L276.97 78.20 L277.98 78.55 L278.99 78.90 L280.00 79.25 L281.02 79.60 L282.03 79.95 L283.04 80.30 L284.05 80.65 L285.06 80.99 L286.08 81.34 L287.09 81.69 L288.10 82.04 L289.11 82.38 L290.12 82.73 L291.14 83.08 L292.15 83.42 L293.16 83.77 L294.17 84.11 L295.18 84.46 L296.20 84.80 L297.21 85.15 L298.22 85.49 L299.23 85.83 L300.24 86.18 L301.26 86.52 L302.27 86.86 L303.28 87.20 L304.29 87.55 L305.30 87.89 L306.32 88.23 L307.33 88.57 L308.34 88.90 L309.35 89.24 L310.36 89.58 L311.38 89.92 L312.39 90.25 L313.40 90.59 L314.41 90.93 L315.42 91.26 L316.44 91.59 L317.45 91.93 L318.46 92.26 L319.47 92.59 L320.48 92.92 L321.50 93.25 L322.51 93.58 L323.52 93.91 L324.53 94.24 L325.54 94.57 L326.56 94.89 L327.57 95.22 L328.58 95.54 L329.59 95.87 L330.60 96.19 L331.62 96.51 L332.63 96.83 L333.64 97.15 L334.65 97.47 L335.66 97.79 L336.68 98.11 L337.69 98.42 L338.70 98.74 L339.71 99.05 L340.72 99.37 L341.74 99.68 L342.75 99.99 L343.76 100.30 L344.77 100.61 L345.78 100.92 L346.80 101.23 L347.81 101.54 L348.82 101.84 L349.83 102.15 L350.85 102.46 L351.86 102.77 L352.87 103.07 L353.88 103.38 L354.89 103.69 L355.91 104.00 L356.92 104.31 L357.93 104.62 L358.94 104.93 L359.95 105.24 L360.97 105.55 L361.98 105.87 L362.99 106.18 L364.00 106.50 L365.01 106.82 L366.03 107.13 L367.04 107.45 L368.05 107.78 L369.06 108.10 L370.07 108.42 L371.09 108.75 L372.10 109.08 L373.11 109.41 L374.12 109.75 L375.13 110.08 L376.15 110.42 L377.16 110.76 L378.17 111.10 L379.18 111.45 L380.19 111.80 L381.21 112.15 L382.22 112.50 L383.23 112.86 L384.24 113.22 L385.25 113.59 L386.27 113.96 L387.28 114.33 L388.29 114.70 L389.30 115.08 L390.31 115.46 L391.33 115.85 L392.34 116.24 L393.35 116.63 L394.36 117.03 L395.37 117.43 L396.39 117.84 L397.40 118.25 L398.41 118.67 L399.42 119.09 L400.43 119.52 L401.45 119.95 L402.46 120.39 L403.47 120.83 L404.48 121.29 L405.49 121.74 L406.51 122.21 L407.52 122.68 L408.53 123.15 L409.54 123.64 L410.55 124.13 L411.57 124.63 L412.58 125.14 L413.59 125.66 L414.60 126.18 L415.62 126.72 L416.63 127.26 L417.64 127.81 L418.65 128.37 L419.66 128.94 L420.68 129.52 L421.69 130.11 L422.70 130.71 L423.71 131.32 L424.72 131.94 L425.74 132.58 L426.75 133.22 L427.76 133.87 L428.77 134.54 L429.78 135.22 L430.80 135.91 L431.81 136.61 L432.82 137.32 L433.83 138.05 L434.84 138.79 L435.86 139.54 L436.87 140.31 L437.88 141.09 L438.89 141.88 L439.90 142.69 L440.92 143.51 L441.93 144.34 L442.94 145.19 L443.95 146.06 L444.96 146.94 L445.98 147.83 L446.99 148.74 L448.00 149.67" stroke="#000" stroke-width="2.25" stroke-dasharray="2.1 0.55 2.1 2.3"/>
</g>
<g stroke="#000" stroke-width="1.85" fill="none">
<path d="M221.16 55.35 L347.84 95.40"/>
<path d="M221.16 117.68 L347.84 237.83"/>
</g>
<path d="M278.30 65.80 L285.80 55.55" stroke="#000" stroke-width="1.6" stroke-linecap="round" fill="none"/><path d="M288.40 52.00 L286.99 57.66 L283.44 55.06 Z" fill="#000" stroke="#000" stroke-width="0.6" stroke-linejoin="round"/>
<path d="M229.50 168.00 L239.45 154.81" stroke="#000" stroke-width="1.6" stroke-linecap="round" fill="none"/><path d="M242.10 151.30 L240.60 156.94 L237.09 154.29 Z" fill="#000" stroke="#000" stroke-width="0.6" stroke-linejoin="round"/>
<rect x="44.20" y="11.00" width="430.35" height="302.40" fill="none" stroke="#000" stroke-width="1.2"/>
<path d="M56.35 313.40 v-5.60 M56.35 11.00 v5.60 M94.48 313.40 v-2.90 M94.48 11.00 v2.90 M144.90 313.40 v-2.90 M144.90 11.00 v2.90 M170.75 313.40 v-2.90 M170.75 11.00 v2.90 M183.03 313.40 v-5.60 M183.03 11.00 v5.60 M221.16 313.40 v-2.90 M221.16 11.00 v2.90 M271.58 313.40 v-2.90 M271.58 11.00 v2.90 M297.43 313.40 v-2.90 M297.43 11.00 v2.90 M309.71 313.40 v-5.60 M309.71 11.00 v5.60 M347.84 313.40 v-2.90 M347.84 11.00 v2.90 M398.26 313.40 v-2.90 M398.26 11.00 v2.90 M424.11 313.40 v-2.90 M424.11 11.00 v2.90 M436.39 313.40 v-5.60 M436.39 11.00 v5.60 M474.52 313.40 v-2.90 M474.52 11.00 v2.90 M44.20 281.76 h2.90 M474.55 281.76 h-2.90 M44.20 265.41 h2.90 M474.55 265.41 h-2.90 M44.20 257.65 h5.60 M474.55 257.65 h-5.60 M44.20 233.54 h2.90 M474.55 233.54 h-2.90 M44.20 201.66 h2.90 M474.55 201.66 h-2.90 M44.20 185.31 h2.90 M474.55 185.31 h-2.90 M44.20 177.55 h5.60 M474.55 177.55 h-5.60 M44.20 153.44 h2.90 M474.55 153.44 h-2.90 M44.20 121.56 h2.90 M474.55 121.56 h-2.90 M44.20 105.21 h2.90 M474.55 105.21 h-2.90 M44.20 97.45 h5.60 M474.55 97.45 h-5.60 M44.20 73.34 h2.90 M474.55 73.34 h-2.90 M44.20 41.46 h2.90 M474.55 41.46 h-2.90 M44.20 25.11 h2.90 M474.55 25.11 h-2.90 M44.20 17.35 h5.60 M474.55 17.35 h-5.60" stroke="#000" stroke-width="0.95" fill="none"/>
<rect x="66.25" y="223.4" width="188.05" height="75.75" fill="#fff" stroke="#000" stroke-width="1"/>
<g font-family="'Liberation Serif', serif" fill="#1a1a1a" opacity="0.999">
<text transform="translate(9.88,21.70) scale(1.008,0.963)" font-size="16">10</text>
<text transform="translate(26.12,15.55) scale(1.030,0.943)" font-size="11">0</text>
<text transform="translate(-0.08,101.80) scale(0.980,0.963)" font-size="16">10</text>
<text transform="translate(16.53,98.23) scale(1.231,1.460)" font-size="11">−</text>
<text transform="translate(24.95,95.75) scale(1.085,0.964)" font-size="11">1</text>
<text transform="translate(-0.08,181.90) scale(0.980,0.963)" font-size="16">10</text>
<text transform="translate(16.53,178.33) scale(1.231,1.460)" font-size="11">−</text>
<text transform="translate(25.12,175.85) scale(1.089,0.961)" font-size="11">2</text>
<text transform="translate(-0.08,262.00) scale(0.980,0.963)" font-size="16">10</text>
<text transform="translate(16.53,258.43) scale(1.231,1.460)" font-size="11">−</text>
<text transform="translate(25.09,255.85) scale(1.056,0.947)" font-size="11">3</text>
<text transform="translate(44.99,336.75) scale(1.001,0.963)" font-size="16">10</text>
<text transform="translate(61.12,330.60) scale(1.030,0.943)" font-size="11">0</text>
<text transform="translate(171.67,336.75) scale(1.001,0.963)" font-size="16">10</text>
<text transform="translate(187.53,330.70) scale(1.085,0.964)" font-size="11">1</text>
<text transform="translate(298.35,336.75) scale(1.001,0.963)" font-size="16">10</text>
<text transform="translate(314.38,330.70) scale(1.089,0.961)" font-size="11">2</text>
<text transform="translate(425.03,336.75) scale(1.001,0.963)" font-size="16">10</text>
<text transform="translate(441.03,330.60) scale(1.056,0.947)" font-size="11">3</text>
<text transform="translate(245.50,345.53) scale(1.132,1.091)" font-size="16" font-style="italic">t</text>
<text transform="translate(252.10,349.27) scale(1.552,1.495)" font-size="16">/</text>
<text transform="translate(259.33,345.50) scale(1.101,1.040)" font-size="16" font-style="italic">N</text>
<g transform="translate(27.0,149.7) rotate(-90)">
<text transform="translate(0.47,0.00) scale(0.857,1.040)" font-size="16" font-style="italic">P</text>
<text transform="translate(8.38,3.70) scale(0.976,0.956)" font-size="11" font-style="italic">ℓ</text>
<text transform="translate(14.35,0.24) scale(0.925,1.103)" font-size="16">(</text>
<text transform="translate(19.16,0.03) scale(1.058,1.091)" font-size="16" font-style="italic">t</text>
<text transform="translate(25.93,0.24) scale(0.913,1.103)" font-size="16">)</text>
</g>
<text transform="translate(83.37,236.74) scale(1.007,1.046)" font-size="16" font-style="italic">ℓ</text>
<text transform="translate(93.85,238.54) scale(1.437,1.100)" font-size="16">=</text>
<text transform="translate(111.08,236.80) scale(1.012,0.985)" font-size="16">1</text>
<text transform="translate(119.91,236.93) scale(0.797,1.168)" font-size="16">,</text>
<text transform="translate(126.64,236.70) scale(1.153,1.040)" font-size="16" font-style="italic">N</text>
<text transform="translate(144.95,238.54) scale(1.437,1.100)" font-size="16">=</text>
<text transform="translate(162.14,236.65) scale(0.940,0.963)" font-size="16">20</text>
<text transform="translate(194.62,236.94) scale(0.827,1.103)" font-size="16">(</text>
<text transform="translate(200.34,236.75) scale(1.170,0.936)" font-size="16" font-style="italic">a</text>
<text transform="translate(209.87,236.94) scale(0.827,1.103)" font-size="16">)</text>
<path d="M225.9 233.35 H243" stroke="#f00" stroke-width="2.4"/>
<text transform="translate(85.27,255.67) scale(1.007,1.046)" font-size="16" font-style="italic">ℓ</text>
<text transform="translate(95.75,257.47) scale(1.437,1.100)" font-size="16">=</text>
<text transform="translate(112.73,255.73) scale(1.047,0.985)" font-size="16">1</text>
<text transform="translate(121.61,255.86) scale(0.797,1.168)" font-size="16">,</text>
<text transform="translate(128.54,255.63) scale(1.153,1.040)" font-size="16" font-style="italic">N</text>
<text transform="translate(146.85,257.47) scale(1.437,1.100)" font-size="16">=</text>
<text transform="translate(163.70,255.58) scale(0.968,0.963)" font-size="16">40</text>
<text transform="translate(196.08,255.87) scale(0.876,1.103)" font-size="16">(</text>
<text transform="translate(201.81,255.67) scale(0.997,1.004)" font-size="16" font-style="italic">b</text>
<text transform="translate(209.87,255.87) scale(0.827,1.103)" font-size="16">)</text>
<path d="M225.9 252.28 H243" stroke="#f0f" stroke-width="1.3"/>
<text transform="translate(77.21,274.60) scale(0.895,1.046)" font-size="16" font-style="italic">ℓ</text>
<text transform="translate(87.55,276.40) scale(1.437,1.100)" font-size="16">=</text>
<text transform="translate(104.91,274.51) scale(0.987,0.963)" font-size="16">10</text>
<text transform="translate(121.51,274.79) scale(0.797,1.168)" font-size="16">,</text>
<text transform="translate(128.54,274.56) scale(1.153,1.040)" font-size="16" font-style="italic">N</text>
<text transform="translate(146.85,276.40) scale(1.437,1.100)" font-size="16">=</text>
<text transform="translate(163.94,274.51) scale(0.940,0.963)" font-size="16">20</text>
<text transform="translate(196.60,274.80) scale(0.706,1.103)" font-size="16">(</text>
<text transform="translate(201.39,274.61) scale(1.041,0.936)" font-size="16" font-style="italic">c</text>
<text transform="translate(209.87,274.80) scale(0.827,1.103)" font-size="16">)</text>
<path d="M225.9 271.21 H243" stroke="#00f000" stroke-width="2.6"/>
<text transform="translate(75.50,293.53) scale(0.927,1.046)" font-size="16" font-style="italic">ℓ</text>
<text transform="translate(85.95,295.33) scale(1.437,1.100)" font-size="16">=</text>
<text transform="translate(103.40,293.44) scale(1.001,0.963)" font-size="16">20</text>
<text transform="translate(120.21,293.72) scale(0.797,1.168)" font-size="16">,</text>
<text transform="translate(126.74,293.49) scale(1.153,1.040)" font-size="16" font-style="italic">N</text>
<text transform="translate(145.05,295.33) scale(1.437,1.100)" font-size="16">=</text>
<text transform="translate(161.90,293.44) scale(0.962,0.963)" font-size="16">40</text>
<text transform="translate(195.12,293.73) scale(0.681,1.103)" font-size="16">(</text>
<text transform="translate(200.06,293.53) scale(1.125,1.003)" font-size="16" font-style="italic">d</text>
<text transform="translate(209.99,293.73) scale(0.803,1.103)" font-size="16">)</text>
<path d="M225.9 290.14 H243" stroke="#0ff" stroke-width="3.4"/>
<text transform="translate(373.72,295.44) scale(0.827,1.103)" font-size="16">(</text>
<text transform="translate(379.34,295.25) scale(1.185,0.936)" font-size="16" font-style="italic">a</text>
<text transform="translate(389.05,295.44) scale(0.876,1.103)" font-size="16">)</text>
<text transform="translate(418.00,295.44) scale(0.852,1.103)" font-size="16">(</text>
<text transform="translate(423.34,295.24) scale(0.939,1.004)" font-size="16" font-style="italic">b</text>
<text transform="translate(431.50,295.44) scale(0.779,1.103)" font-size="16">)</text>
<text transform="translate(350.50,132.54) scale(0.706,1.103)" font-size="16">(</text>
<text transform="translate(355.29,132.35) scale(1.041,0.936)" font-size="16" font-style="italic">c</text>
<text transform="translate(363.89,132.54) scale(0.803,1.103)" font-size="16">)</text>
<text transform="translate(424.32,132.54) scale(0.681,1.103)" font-size="16">(</text>
<text transform="translate(429.26,132.34) scale(1.125,1.003)" font-size="16" font-style="italic">d</text>
<text transform="translate(439.19,132.54) scale(0.803,1.103)" font-size="16">)</text>
<text transform="translate(276.58,43.90) scale(0.941,0.985)" font-size="16">1</text>
<text transform="translate(284.75,47.57) scale(1.507,1.495)" font-size="16">/</text>
<text transform="translate(293.06,44.00) scale(1.093,0.980)" font-size="16" font-style="italic">x</text>
<text transform="translate(301.65,37.60) scale(1.085,0.964)" font-size="11">1</text>
<text transform="translate(308.40,40.04) scale(1.571,1.454)" font-size="11">/</text>
<text transform="translate(314.12,37.60) scale(1.089,0.961)" font-size="11">2</text>
<text transform="translate(194.18,194.70) scale(0.941,0.985)" font-size="16">1</text>
<text transform="translate(202.35,198.37) scale(1.507,1.495)" font-size="16">/</text>
<text transform="translate(210.66,194.80) scale(1.093,0.980)" font-size="16" font-style="italic">x</text>
<text transform="translate(219.39,188.30) scale(1.056,0.947)" font-size="11">3</text>
<text transform="translate(226.00,190.84) scale(1.571,1.454)" font-size="11">/</text>
<text transform="translate(231.72,188.40) scale(1.089,0.961)" font-size="11">2</text>
</g>
</svg>
</body></html>
